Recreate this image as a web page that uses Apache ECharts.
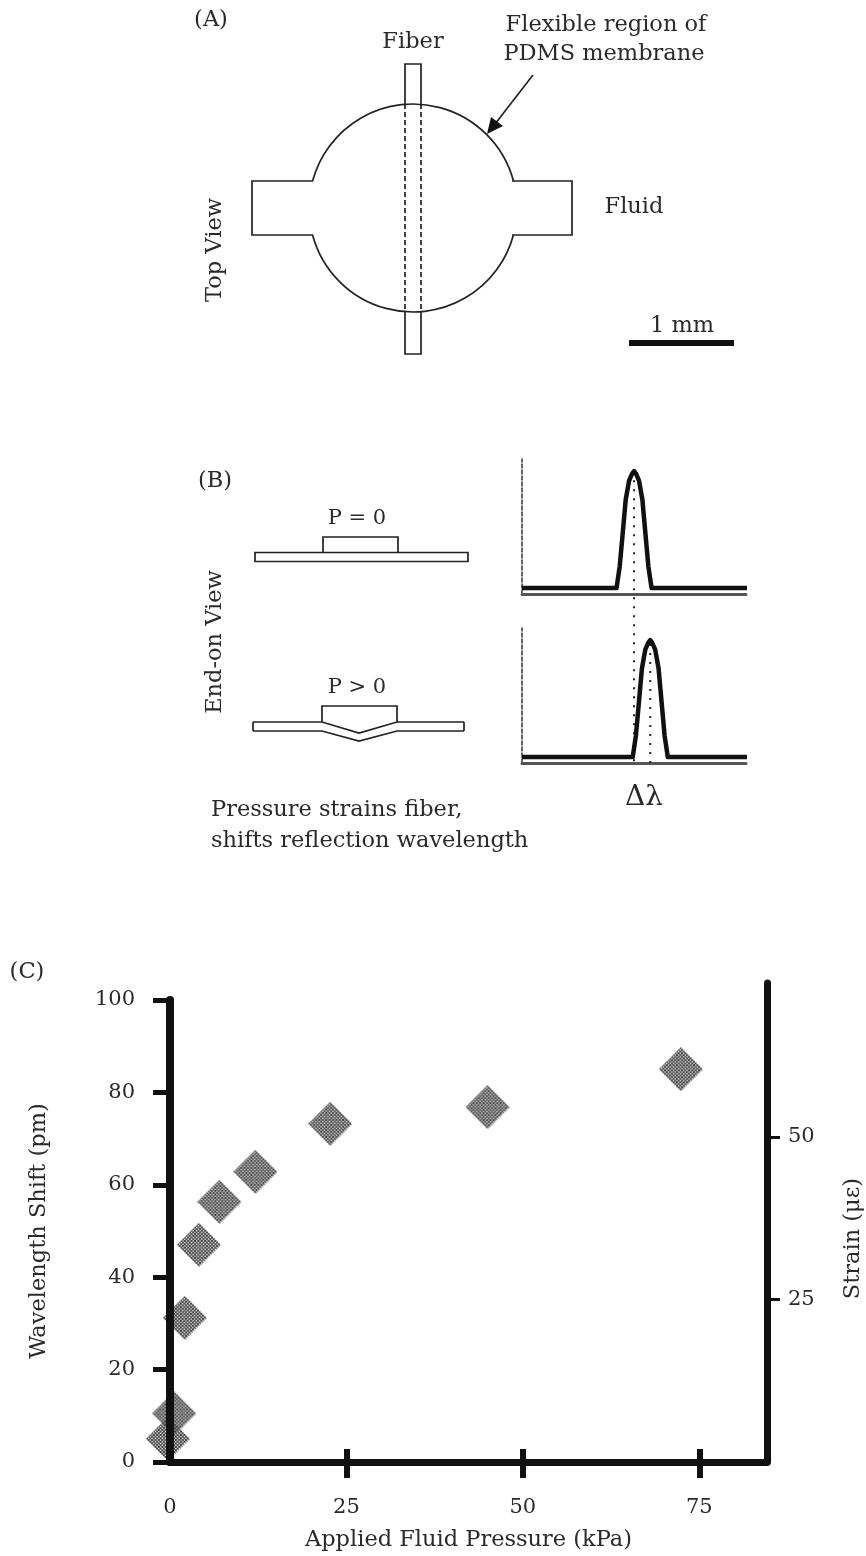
<!DOCTYPE html>
<html><head><meta charset="utf-8">
<style>html,body{margin:0;padding:0;background:#fff}#c{width:866px;height:1556px}</style>
<script src="https://cdn.jsdelivr.net/npm/echarts@6/dist/echarts.min.js"></script>
</head><body><div id="c"></div>
<script>
// Panel C data
const pressure = [-0.3, 0.6, 2.1, 4.1, 7.0, 12.1, 22.7, 45.0, 72.4];
const shift    = [5, 10.5, 31.2, 47, 56.3, 62.8, 73.2, 76.8, 85];
const pressureTicks = [25, 50, 75];
const pressureLabels = [0, 25, 50, 75];
const shiftTicks = [0, 20, 40, 60, 80, 100];
const strainTicks = [25, 50];
// Panel B spectra (relative wavelength, relative reflection)
const wl0 = [0, 42, 43.4, 44.6, 46.1, 47.6, 48.9, 49.8, 50.7, 52, 53.5, 55, 56.2, 57.6, 100];
const wl1 = [0, 49.2, 50.6, 51.8, 53.3, 54.8, 56.1, 57, 57.9, 59.2, 60.7, 62.2, 63.4, 64.8, 100];
const refl = [0.044, 0.044, 0.2, 0.42, 0.7, 0.84, 0.89, 0.91, 0.89, 0.84, 0.7, 0.42, 0.2, 0.044, 0.044];
const peak0 = 49.8, peak1 = 57;

const FONT = '"DejaVu Serif"', TXT = '#2a2a2a', FS = 22.5;
function diamond(){
  const s = 44, c = document.createElement('canvas'); c.width = c.height = s;
  const g = c.getContext('2d');
  g.beginPath(); g.moveTo(s/2,0); g.lineTo(s,s/2); g.lineTo(s/2,s); g.lineTo(0,s/2); g.closePath(); g.clip();
  g.fillStyle = '#f0f0f0'; g.fillRect(0,0,s,s);
  g.fillStyle = '#0c0c0c';
  const p = 1.7;
  for (let i = 0; i*p < s; i++) for (let j = 0; j*p < s; j++)
    if ((i+j)%2===0) g.fillRect(i*p,j*p,2,2);
  return c.toDataURL();
}
const zip = (a,b) => a.map((v,i) => [v,b[i]]);
const text = (t,x,y,o={}) => ({type:'text',x,y,rotation:o.rot||0,style:{text:t,x:0,y:0,fill:TXT,font:(o.size||FS)+'px '+FONT,align:o.align||'center',verticalAlign:'middle'}});
const stroke = {stroke:'#222',fill:null,lineWidth:1.7};
const poly = (pts,extra={}) => ({type:'polyline',shape:{points:pts},style:{...stroke,...extra}});
const R90 = Math.PI/2;
const cx = 413, cy = 208, r = 104;
const a1 = Math.asin(27/r);
const arc = (s,e) => ({type:'arc',shape:{cx,cy,r,startAngle:s,endAngle:e},style:{...stroke}});

const graphic = [
  text('(A)',211,20), text('Fiber',413,42),
  text('Flexible region of',606,25), text('PDMS membrane',604,54),
  text('Fluid',634,207), text('Top View',215,250,{rot:R90}),
  text('1 mm',682,326),
  {type:'rect',shape:{x:629,y:340,width:105,height:6},style:{fill:'#111'}},
  poly([[405,104],[405,64],[421,64],[421,104]]),
  poly([[405,312],[405,354],[421,354],[421,312]]),
  poly([[405,104],[405,312]],{lineDash:[5,3]}),
  poly([[421,104],[421,312]],{lineDash:[5,3]}),
  arc(-Math.PI+a1,-a1), arc(a1,Math.PI-a1),
  poly([[313,181],[252,181],[252,235],[313,235]]),
  poly([[512,181],[572,181],[572,235],[512,235]]),
  poly([[533,75],[495,124]]),
  {type:'polygon',shape:{points:[[487,134],[491,117],[503,126]]},style:{fill:'#111'}},

  text('(B)',215,481), text('P = 0',357,519,{size:21}), text('P > 0',357,688,{size:21}),
  text('End-on View',215,642,{rot:R90}),
  text('Pressure strains fiber,',211,810,{align:'left'}),
  text('shifts reflection wavelength',211,841,{align:'left'}),
  text('\u0394\u03BB',644,798,{size:28}),
  poly([[323,552],[323,537],[398,537],[398,552]]),
  {type:'rect',shape:{x:255,y:552.5,width:213,height:9},style:{...stroke,fill:'#fff'}},
  poly([[322,722],[322,706],[397,706],[397,722]]),
  poly([[253,722],[322,722],[359,733],[397,722],[464,722]]),
  poly([[253,731],[322,731],[359,741],[397,731],[464,731]]),
  poly([[253,722],[253,731]]), poly([[464,722],[464,731]]),
  text('(C)',27,972)
];

const axisBase = {nameTextStyle:{fontFamily:FONT,fontSize:FS,color:TXT},axisLabel:{fontFamily:FONT,fontSize:21,color:TXT},splitLine:{show:false}};
const thick = {lineStyle:{color:'#111',width:7}};
const plain = {show:false};
function specX(i){return {gridIndex:i,type:'value',min:0,max:100,axisLine:{show:true,lineStyle:{color:'#555',width:3,type:[2,1]}},axisTick:plain,axisLabel:plain,splitLine:plain};}
function specY(i){return {gridIndex:i,type:'value',min:0,max:1,axisLine:{show:true,lineStyle:{color:'#333',width:1.5,type:[4,2]}},axisTick:plain,axisLabel:plain,splitLine:plain};}
const specLine = {type:'line',smooth:false,symbol:'none',lineStyle:{color:'#111',width:4.5,join:'round'},animation:false};
const dotLine = {type:'line',symbol:'none',clip:false,lineStyle:{color:'#222',width:2,type:[2,7]},animation:false,z:1};
const g0 = {outerBoundsMode:'none',containLabel:false};

const chart = echarts.init(document.getElementById('c'),null,{renderer:'canvas'});
chart.setOption({
  animation:false, backgroundColor:'#fff', graphic,
  grid:[
    {...g0,left:170,top:1000,width:597,height:462},
    {...g0,left:170,top:983,width:597,height:479},
    {...g0,left:522,top:459,width:225,height:135},
    {...g0,left:522,top:628,width:225,height:135}
  ],
  xAxis:[
    {...axisBase,gridIndex:0,z:10,type:'value',min:0,max:84.6,name:'Applied Fluid Pressure (kPa)',nameLocation:'center',nameGap:67,
      axisLine:{...thick,onZero:false},
      axisTick:{length:16,lineStyle:{color:'#111',width:6},customValues:pressureTicks},
      axisLabel:{...axisBase.axisLabel,margin:35,customValues:pressureLabels}},
    {gridIndex:1,type:'value',min:0,max:84.6,axisLine:{show:false,onZero:false},axisLabel:plain,splitLine:plain,
      axisTick:{inside:true,length:13,lineStyle:{color:'#111',width:6},customValues:pressureTicks}},
    specX(2),specX(3)
  ],
  yAxis:[
    {...axisBase,gridIndex:0,z:10,type:'value',min:0,max:100,name:'Wavelength Shift (pm)',nameLocation:'center',nameGap:119,
      axisLine:{lineStyle:{color:'#111',width:8},onZero:false},
      axisTick:{length:17,lineStyle:{color:'#111',width:5},customValues:shiftTicks},
      axisLabel:{...axisBase.axisLabel,margin:35,customValues:shiftTicks}},
    {...axisBase,gridIndex:1,type:'value',position:'right',min:0,max:73.7,name:'Strain (\u03BC\u03B5)',nameLocation:'center',nameGap:75,nameRotate:90,
      nameTextStyle:{...axisBase.nameTextStyle,padding:[0,32,0,0]},
      axisLine:{...thick,onZero:false},
      axisTick:{length:13,lineStyle:{color:'#111',width:3},customValues:strainTicks},
      axisLabel:{...axisBase.axisLabel,margin:21,customValues:strainTicks}},
    specY(2),specY(3)
  ],
  series:[
    {type:'scatter',xAxisIndex:0,yAxisIndex:0,clip:false,symbol:'image://'+diamond(),symbolSize:44,z:1,data:zip(pressure,shift)},
    {...specLine,xAxisIndex:2,yAxisIndex:2,data:zip(wl0,refl)},
    {...specLine,xAxisIndex:3,yAxisIndex:3,data:zip(wl1,refl)},
    {...dotLine,xAxisIndex:2,yAxisIndex:2,data:[[peak0,0.91],[peak0,-1.25]]},
    {...dotLine,xAxisIndex:3,yAxisIndex:3,data:[[peak1,0],[peak1,0.91]]}
  ]
});
</script></body></html>
